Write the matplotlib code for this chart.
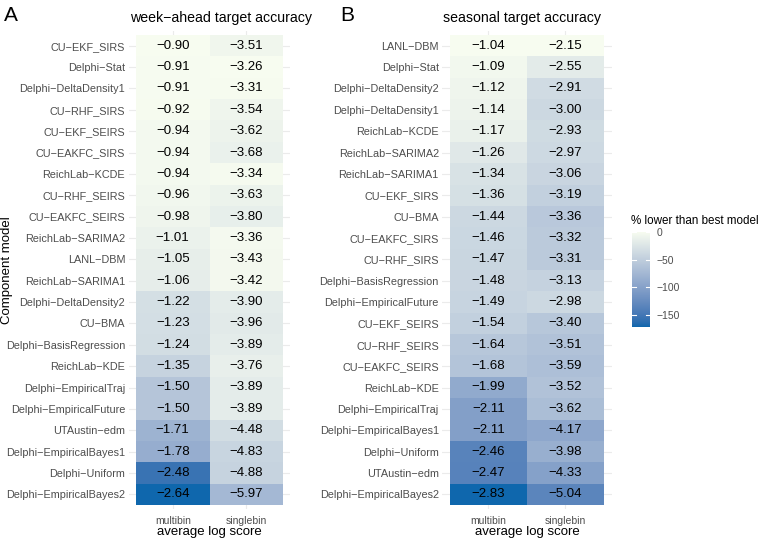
import numpy as np
import matplotlib
matplotlib.use('Agg')
import matplotlib.pyplot as plt
from matplotlib.colors import ListedColormap, Normalize

plt.rcParams['font.family'] = ['Liberation Sans', 'DejaVu Sans']

# ---------------- data ----------------
week_models = ["CU−EKF_SIRS", "Delphi−Stat", "Delphi−DeltaDensity1", "CU−RHF_SIRS",
               "CU−EKF_SEIRS", "CU−EAKFC_SIRS", "ReichLab−KCDE", "CU−RHF_SEIRS",
               "CU−EAKFC_SEIRS", "ReichLab−SARIMA2", "LANL−DBM", "ReichLab−SARIMA1",
               "Delphi−DeltaDensity2", "CU−BMA", "Delphi−BasisRegression", "ReichLab−KDE",
               "Delphi−EmpiricalTraj", "Delphi−EmpiricalFuture", "UTAustin−edm",
               "Delphi−EmpiricalBayes1", "Delphi−Uniform", "Delphi−EmpiricalBayes2"]
week_multibin = [-0.90, -0.91, -0.91, -0.92, -0.94, -0.94, -0.94, -0.96, -0.98, -1.01, -1.05,
                 -1.06, -1.22, -1.23, -1.24, -1.35, -1.50, -1.50, -1.71, -1.78, -2.48, -2.64]
week_singlebin = [-3.51, -3.26, -3.31, -3.54, -3.62, -3.68, -3.34, -3.63, -3.80, -3.36, -3.43,
                  -3.42, -3.90, -3.96, -3.89, -3.76, -3.89, -3.89, -4.48, -4.83, -4.88, -5.97]

season_models = ["LANL−DBM", "Delphi−Stat", "Delphi−DeltaDensity2", "Delphi−DeltaDensity1",
                 "ReichLab−KCDE", "ReichLab−SARIMA2", "ReichLab−SARIMA1", "CU−EKF_SIRS",
                 "CU−BMA", "CU−EAKFC_SIRS", "CU−RHF_SIRS", "Delphi−BasisRegression",
                 "Delphi−EmpiricalFuture", "CU−EKF_SEIRS", "CU−RHF_SEIRS", "CU−EAKFC_SEIRS",
                 "ReichLab−KDE", "Delphi−EmpiricalTraj", "Delphi−EmpiricalBayes1",
                 "Delphi−Uniform", "UTAustin−edm", "Delphi−EmpiricalBayes2"]
season_multibin = [-1.04, -1.09, -1.12, -1.14, -1.17, -1.26, -1.34, -1.36, -1.44, -1.46, -1.47,
                   -1.48, -1.49, -1.54, -1.64, -1.68, -1.99, -2.11, -2.11, -2.46, -2.47, -2.83]
season_singlebin = [-2.15, -2.55, -2.91, -3.00, -2.93, -2.97, -3.06, -3.19, -3.36, -3.32, -3.31,
                    -3.13, -2.98, -3.40, -3.51, -3.59, -3.52, -3.62, -4.17, -3.98, -4.33, -5.04]

score_types = ["multibin", "singlebin"]
legend_ticks = [0, -50, -100, -150]

# ---------------- colour scale (Lab interpolation like ggplot) ----------------
M = np.array([[0.4124564, 0.3575761, 0.1804375],
              [0.2126729, 0.7151522, 0.0721750],
              [0.0193339, 0.1191920, 0.9503041]])
WHITE = np.array([0.95047, 1.0, 1.08883])


def _lin(c):
    return np.where(c <= 0.04045, c / 12.92, ((c + 0.055) / 1.055) ** 2.4)


def _gam(c):
    c = np.clip(c, 0, None)
    return np.where(c <= 0.0031308, 12.92 * c, 1.055 * np.power(c, 1 / 2.4) - 0.055)


def rgb2lab(rgb):
    xyz = M @ _lin(np.asarray(rgb, float))
    t = xyz / WHITE
    f = np.where(t > (6 / 29) ** 3, np.cbrt(t), t / (3 * (6 / 29) ** 2) + 4 / 29)
    return np.array([116 * f[1] - 16, 500 * (f[0] - f[1]), 200 * (f[1] - f[2])])


def lab2rgb(lab):
    L, a, b = lab
    fy = (L + 16) / 116
    f = np.array([fy + a / 500, fy, fy - b / 200])
    t = np.where(f > 6 / 29, f ** 3, 3 * (6 / 29) ** 2 * (f - 4 / 29))
    lin = np.linalg.solve(M, t * WHITE)
    return np.clip(_gam(lin), 0, 1)


def hex2rgb(h):
    h = h.lstrip('#')
    return np.array([int(h[i:i + 2], 16) / 255 for i in (0, 2, 4)])


low_lab = rgb2lab(hex2rgb("#0F67AD"))
high_lab = rgb2lab(hex2rgb("#F7FCF0"))
cols = [lab2rgb(low_lab + (high_lab - low_lab) * s) for s in np.linspace(0, 1, 256)]
cmap = ListedColormap(cols)


def pct_lower(vals):
    v = np.asarray(vals, float)
    best = v.max()
    return 100 * (v - best) / abs(best)


# ---------------- figure ----------------
W, H = 764, 540
fig = plt.figure(figsize=(W / 100, H / 100), dpi=100)

tile_top, tile_bot = 35, 505
nrow = 22
unit_y = (tile_bot - tile_top) / nrow
ey = 0.2


def make_panel(tx0, tx1, models, multi, single, title, letter, letter_x):
    unit_x = (tx1 - tx0) / 2
    ex = 0.1
    ax_l = tx0 - ex * unit_x
    ax_r = tx1 + ex * unit_x
    ax_t = tile_top - ey * unit_y
    ax_b = tile_bot + ey * unit_y
    ax = fig.add_axes([ax_l / W, 1 - ax_b / H, (ax_r - ax_l) / W, (ax_b - ax_t) / H])
    Z = np.column_stack([pct_lower(multi), pct_lower(single)])
    norm = Normalize(vmin=Z.min(), vmax=0)
    for y in range(nrow):
        ax.axhline(y, color='#EBEBEB', lw=0.8, zorder=1)
    for x in range(2):
        ax.axvline(x, color='#EBEBEB', lw=0.8, zorder=1)
    ax.pcolormesh(np.arange(3) - 0.5, np.arange(nrow + 1) - 0.5, Z, cmap=cmap, norm=norm, zorder=2)
    vals = np.column_stack([multi, single])
    for i in range(nrow):
        for j in range(2):
            ax.text(j, i, f"{vals[i, j]:.2f}".replace('-', '−'), ha='center', va='center',
                    fontsize=9.5, color='black', zorder=3)
    ax.set_xlim(-0.5 - ex, 1.5 + ex)
    ax.set_ylim(nrow - 0.5 + ey, -0.5 - ey)
    ax.set_yticks(range(nrow))
    ax.set_yticklabels(models)
    ax.set_xticks(range(2))
    ax.set_xticklabels(score_types)
    ax.tick_params(axis='both', length=0, colors='#4D4D4D')
    ax.tick_params(axis='y', pad=2.5, labelsize=7.8)
    ax.tick_params(axis='x', pad=5, labelsize=7.5)
    for s in ax.spines.values():
        s.set_visible(False)
    fig.text((ax_l + 1) / W, 1 - 18 / H, title, ha='left', va='center', fontsize=10.2)
    fig.text((tx0 + tx1) / 2 / W, 1 - 532 / H, "average log score", ha='center', va='center',
             fontsize=9.5)
    fig.text(letter_x / W, 1 - 15.5 / H, letter, ha='left', va='center', fontsize=15)
    return ax, norm


axA, normA = make_panel(136, 283, week_models, week_multibin, week_singlebin,
                        "week−ahead target accuracy", "A", 4)
axB, normB = make_panel(450, 604, season_models, season_multibin, season_singlebin,
                        "seasonal target accuracy", "B", 340)

fig.text(7.5 / W, 1 - 270 / H, "Component model", rotation=90, ha='center', va='center',
         fontsize=9.5)

# ---------------- legend (colour bar) ----------------
cb_x0, cb_x1, cb_t, cb_b = 632, 650, 232, 327
cax = fig.add_axes([cb_x0 / W, 1 - cb_b / H, (cb_x1 - cb_x0) / W, (cb_b - cb_t) / H])
grad = np.linspace(0, normB.vmin, 300).reshape(-1, 1)
cax.imshow(grad, aspect='auto', cmap=cmap, norm=normB,
           extent=[0, 1, normB.vmin, 0], origin='upper')
cax.set_xlim(0, 1)
cax.set_ylim(normB.vmin, 0)
for t in legend_ticks:
    cax.plot([0, 0.2], [t, t], color='white', lw=0.8)
    cax.plot([0.8, 1], [t, t], color='white', lw=0.8)
cax.set_xticks([])
cax.set_yticks(legend_ticks)
cax.set_yticklabels([str(t).replace('-', '−') for t in legend_ticks])
cax.yaxis.tick_right()
cax.tick_params(axis='y', length=0, pad=5, labelsize=7.5, colors='#4D4D4D')
for s in cax.spines.values():
    s.set_visible(False)
fig.text(631 / W, 1 - 221 / H, "% lower than best model", ha='left', va='center', fontsize=8.4)

fig.savefig("out.png", dpi=100)
